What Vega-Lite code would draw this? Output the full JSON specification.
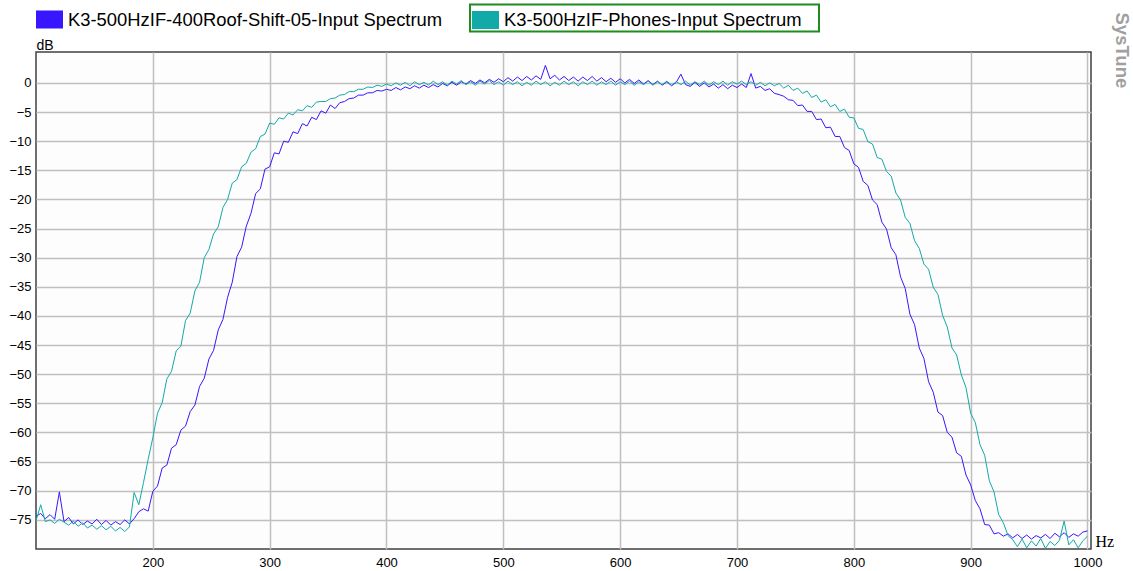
{
"$schema":"https://vega.github.io/schema/vega-lite/v6.json",
"autosize":{"type":"none"},
"width":1055,"height":497,
"padding":{"left":36,"top":52,"right":42,"bottom":22},
"background":"#FFFFFF",
"config":{
 "font":"Liberation Sans",
 "view":{"stroke":"#404040","strokeWidth":1.5,"fill":"#FDFDFD"},
 "axis":{"grid":true,"gridColor":"#C0C0C0","gridWidth":1.5,"ticks":false,"domain":false,"labelFontSize":13,"labelColor":"#000000","labelFont":"Liberation Sans"}
},
"title":{"text":"SysTune","orient":"right","anchor":"start","angle":90,"fontSize":18.5,"fontWeight":"bold","color":"#A0A0A0","font":"Liberation Sans","offset":-1,"dx":9},
"data":{"values":[
{"f":100,"a":-74.4,"b":-75.2},{"f":104,"a":-73.9,"b":-72.4},{"f":108,"a":-74.8,"b":-75.3},{"f":112,"a":-74.1,"b":-75.0},
{"f":116,"a":-74.9,"b":-75.6},{"f":120,"a":-70.2,"b":-74.9},{"f":124,"a":-75.3,"b":-75.4},{"f":128,"a":-74.6,"b":-75.9},
{"f":132,"a":-75.7,"b":-75.2},{"f":136,"a":-75.0,"b":-76.1},{"f":140,"a":-75.8,"b":-75.5},{"f":144,"a":-75.2,"b":-76.4},
{"f":148,"a":-75.7,"b":-75.9},{"f":152,"a":-74.9,"b":-76.6},{"f":156,"a":-75.8,"b":-76.0},{"f":160,"a":-75.1,"b":-76.7},
{"f":164,"a":-75.9,"b":-76.1},{"f":168,"a":-75.3,"b":-76.9},{"f":172,"a":-75.8,"b":-76.3},{"f":176,"a":-75.0,"b":-77.0},
{"f":180,"a":-75.7,"b":-76.2},{"f":184,"a":-74.8,"b":-70.3},{"f":188,"a":-73.6,"b":-72.4},{"f":192,"a":-73.1,"b":-68.6},
{"f":196,"a":-73.5,"b":-64.6},{"f":200,"a":-70.1,"b":-60.9},{"f":204,"a":-69.2,"b":-56.7},{"f":208,"a":-66.1,"b":-54.9},
{"f":212,"a":-65.6,"b":-50.8},{"f":216,"a":-62.7,"b":-49.5},{"f":220,"a":-62.1,"b":-46.0},{"f":224,"a":-59.6,"b":-45.2},
{"f":228,"a":-58.9,"b":-40.8},{"f":232,"a":-56.4,"b":-39.5},{"f":236,"a":-55.3,"b":-35.7},{"f":240,"a":-52.1,"b":-34.2},
{"f":244,"a":-50.7,"b":-30.0},{"f":248,"a":-47.4,"b":-28.6},{"f":252,"a":-45.9,"b":-25.9},{"f":256,"a":-42.4,"b":-24.7},
{"f":260,"a":-40.6,"b":-21.4},{"f":264,"a":-36.8,"b":-20.0},{"f":268,"a":-34.2,"b":-17.2},{"f":272,"a":-29.8,"b":-16.6},
{"f":276,"a":-28.2,"b":-14.4},{"f":280,"a":-24.6,"b":-13.8},{"f":284,"a":-22.4,"b":-11.9},{"f":288,"a":-19.0,"b":-11.3},
{"f":292,"a":-18.2,"b":-9.2},{"f":296,"a":-14.8,"b":-8.8},{"f":300,"a":-14.4,"b":-6.9},{"f":304,"a":-12.0,"b":-7.1},
{"f":308,"a":-12.2,"b":-6.0},{"f":312,"a":-10.0,"b":-6.2},{"f":316,"a":-10.2,"b":-5.2},{"f":320,"a":-8.4,"b":-5.5},
{"f":324,"a":-8.7,"b":-4.6},{"f":328,"a":-7.0,"b":-4.8},{"f":332,"a":-7.4,"b":-3.9},{"f":336,"a":-5.9,"b":-4.2},
{"f":340,"a":-6.3,"b":-3.3},{"f":344,"a":-4.8,"b":-3.2},{"f":348,"a":-5.2,"b":-3.2},{"f":352,"a":-3.8,"b":-2.7},
{"f":356,"a":-4.4,"b":-2.6},{"f":360,"a":-3.4,"b":-2.1},{"f":364,"a":-3.2,"b":-2.0},{"f":368,"a":-2.7,"b":-1.5},
{"f":372,"a":-2.6,"b":-1.5},{"f":376,"a":-2.1,"b":-1.1},{"f":380,"a":-2.1,"b":-1.1},{"f":384,"a":-1.7,"b":-0.7},
{"f":388,"a":-1.7,"b":-0.8},{"f":392,"a":-1.3,"b":-0.4},{"f":396,"a":-1.4,"b":-0.6},{"f":400,"a":-1.1,"b":-0.2},
{"f":404,"a":-1.3,"b":-0.5},{"f":408,"a":-0.8,"b":0.0},{"f":412,"a":-1.2,"b":-0.4},{"f":416,"a":-0.7,"b":0.1},
{"f":420,"a":-1.0,"b":-0.5},{"f":424,"a":-0.5,"b":0.2},{"f":428,"a":-0.9,"b":-0.3},{"f":432,"a":-0.4,"b":0.1},
{"f":436,"a":-0.8,"b":-0.4},{"f":440,"a":-0.3,"b":0.3},{"f":444,"a":-0.7,"b":-0.3},{"f":448,"a":-0.1,"b":0.2},
{"f":452,"a":-0.5,"b":-0.4},{"f":456,"a":0.1,"b":0.3},{"f":460,"a":-0.4,"b":-0.2},{"f":464,"a":0.2,"b":0.4},
{"f":468,"a":-0.2,"b":-0.3},{"f":472,"a":0.4,"b":0.2},{"f":476,"a":-0.1,"b":-0.4},{"f":480,"a":0.5,"b":0.3},
{"f":484,"a":0.0,"b":-0.2},{"f":488,"a":0.6,"b":0.4},{"f":492,"a":0.1,"b":-0.3},{"f":496,"a":0.7,"b":0.2},
{"f":500,"a":0.2,"b":-0.4},{"f":504,"a":0.9,"b":0.3},{"f":508,"a":0.3,"b":-0.3},{"f":512,"a":1.0,"b":0.2},
{"f":516,"a":0.4,"b":-0.5},{"f":520,"a":1.1,"b":0.1},{"f":524,"a":0.5,"b":-0.4},{"f":528,"a":1.2,"b":0.3},
{"f":532,"a":0.6,"b":-0.3},{"f":536,"a":3.0,"b":0.2},{"f":540,"a":0.7,"b":-0.5},{"f":544,"a":1.3,"b":0.1},
{"f":548,"a":0.5,"b":-0.4},{"f":552,"a":1.1,"b":0.3},{"f":556,"a":0.4,"b":-0.3},{"f":560,"a":1.0,"b":0.2},
{"f":564,"a":0.3,"b":-0.5},{"f":568,"a":1.0,"b":0.2},{"f":572,"a":0.4,"b":-0.3},{"f":576,"a":1.1,"b":0.3},
{"f":580,"a":0.3,"b":-0.4},{"f":584,"a":0.9,"b":0.2},{"f":588,"a":0.2,"b":-0.3},{"f":592,"a":0.8,"b":0.3},
{"f":596,"a":0.1,"b":-0.4},{"f":600,"a":0.7,"b":0.2},{"f":604,"a":0.0,"b":-0.3},{"f":608,"a":0.6,"b":0.3},
{"f":612,"a":-0.1,"b":-0.4},{"f":616,"a":0.5,"b":0.2},{"f":620,"a":-0.2,"b":-0.3},{"f":624,"a":0.4,"b":0.3},
{"f":628,"a":-0.3,"b":-0.4},{"f":632,"a":0.3,"b":0.2},{"f":636,"a":-0.4,"b":-0.3},{"f":640,"a":0.2,"b":0.3},
{"f":644,"a":-0.5,"b":-0.4},{"f":648,"a":0.1,"b":0.2},{"f":652,"a":1.5,"b":-0.3},{"f":656,"a":-0.3,"b":0.3},
{"f":660,"a":-0.6,"b":-0.4},{"f":664,"a":0.1,"b":0.2},{"f":668,"a":-0.6,"b":-0.3},{"f":672,"a":0.0,"b":0.3},
{"f":676,"a":-0.7,"b":-0.4},{"f":680,"a":-0.2,"b":0.2},{"f":684,"a":-0.9,"b":-0.3},{"f":688,"a":-0.3,"b":0.3},
{"f":692,"a":-1.0,"b":-0.4},{"f":696,"a":-0.4,"b":0.2},{"f":700,"a":-0.8,"b":-0.2},{"f":704,"a":-0.2,"b":0.3},
{"f":708,"a":-0.8,"b":-0.3},{"f":712,"a":1.6,"b":0.2},{"f":716,"a":-0.9,"b":-0.4},{"f":720,"a":-0.6,"b":0.1},
{"f":724,"a":-1.3,"b":-0.5},{"f":728,"a":-1.0,"b":0.0},{"f":732,"a":-1.8,"b":-0.5},{"f":736,"a":-2.0,"b":-0.1},
{"f":740,"a":-2.3,"b":-0.9},{"f":744,"a":-2.9,"b":-0.4},{"f":748,"a":-3.0,"b":-1.3},{"f":752,"a":-3.9,"b":-0.9},
{"f":756,"a":-3.8,"b":-1.8},{"f":760,"a":-4.9,"b":-1.4},{"f":764,"a":-4.9,"b":-2.5},{"f":768,"a":-6.3,"b":-2.1},
{"f":772,"a":-6.2,"b":-3.3},{"f":776,"a":-7.7,"b":-2.9},{"f":780,"a":-7.6,"b":-4.1},{"f":784,"a":-9.2,"b":-3.7},
{"f":788,"a":-9.2,"b":-4.9},{"f":792,"a":-11.1,"b":-4.5},{"f":796,"a":-11.6,"b":-5.9},{"f":800,"a":-13.9,"b":-6.0},
{"f":804,"a":-14.5,"b":-7.8},{"f":808,"a":-16.9,"b":-8.0},{"f":812,"a":-17.6,"b":-10.1},{"f":816,"a":-20.1,"b":-10.5},
{"f":820,"a":-20.9,"b":-12.8},{"f":824,"a":-23.9,"b":-13.1},{"f":828,"a":-25.1,"b":-15.2},{"f":832,"a":-28.3,"b":-16.0},
{"f":836,"a":-29.5,"b":-18.9},{"f":840,"a":-33.3,"b":-20.1},{"f":844,"a":-35.3,"b":-23.1},{"f":848,"a":-39.7,"b":-24.1},
{"f":852,"a":-41.5,"b":-27.1},{"f":856,"a":-45.5,"b":-28.4},{"f":860,"a":-47.3,"b":-31.1},{"f":864,"a":-51.3,"b":-32.0},
{"f":868,"a":-53.1,"b":-35.1},{"f":872,"a":-56.5,"b":-36.3},{"f":876,"a":-57.1,"b":-39.9},{"f":880,"a":-60.0,"b":-41.9},
{"f":884,"a":-60.8,"b":-45.5},{"f":888,"a":-63.5,"b":-46.7},{"f":892,"a":-64.1,"b":-50.1},{"f":896,"a":-67.3,"b":-52.3},
{"f":900,"a":-69.0,"b":-56.7},{"f":904,"a":-71.7,"b":-58.3},{"f":908,"a":-73.1,"b":-62.1},{"f":912,"a":-75.8,"b":-63.9},
{"f":916,"a":-75.9,"b":-68.3},{"f":920,"a":-77.4,"b":-70.2},{"f":924,"a":-77.2,"b":-74.1},{"f":928,"a":-77.8,"b":-75.5},
{"f":932,"a":-77.4,"b":-77.7},{"f":936,"a":-78.1,"b":-78.4},{"f":940,"a":-77.5,"b":-79.6},{"f":944,"a":-78.2,"b":-78.3},
{"f":948,"a":-77.6,"b":-79.8},{"f":952,"a":-78.3,"b":-78.6},{"f":956,"a":-77.7,"b":-79.5},{"f":960,"a":-78.1,"b":-78.2},
{"f":964,"a":-77.5,"b":-79.9},{"f":968,"a":-78.2,"b":-78.7},{"f":972,"a":-77.3,"b":-79.4},{"f":976,"a":-77.9,"b":-78.5},
{"f":980,"a":-77.2,"b":-75.2},{"f":984,"a":-78.0,"b":-79.3},{"f":988,"a":-77.4,"b":-78.4},{"f":992,"a":-77.8,"b":-79.8},
{"f":996,"a":-77.1,"b":-78.6},{"f":1000,"a":-76.9,"b":-77.8}
]},
"transform":[{"fold":["a","b"],"as":["series","db"]}],
"encoding":{
 "x":{"field":"f","type":"quantitative","scale":{"domain":[100,1003],"nice":false,"zero":false},
  "axis":{"values":[200,300,400,500,600,700,800,900,1000],"format":"d","labelPadding":7,"title":"Hz","titleFont":"Liberation Serif","titleFontSize":16,"titleFontWeight":"normal","titleAnchor":"start","titleAlign":"left","titleX":1059,"titleY":-3,"titleBaseline":"alphabetic"}},
 "y":{"field":"db","type":"quantitative","scale":{"domain":[-80,5.3],"nice":false,"zero":false},
  "axis":{"values":[0,-5,-10,-15,-20,-25,-30,-35,-40,-45,-50,-55,-60,-65,-70,-75],"labelPadding":5,"title":"dB","titleFont":"Liberation Sans","titleFontSize":14,"titleFontWeight":"normal","titleAngle":0,"titleAlign":"left","titleX":0,"titleY":-3,"titleBaseline":"alphabetic"}}
},
"layer":[
 {"transform":[{"filter":"datum.series === 'a'"}],
  "mark":{"type":"line","strokeWidth":1,"clip":true},
  "encoding":{"color":{"field":"series","type":"nominal","scale":{"domain":["a"],"range":["#3816FF"]},
   "legend":{"orient":"none","legendX":0,"legendY":-46,"direction":"horizontal","title":null,"symbolType":"M-1,-0.667L1,-0.667L1,0.667L-1,0.667Z","symbolSize":729,"symbolStrokeWidth":0,"symbolFillColor":"#3816FF","symbolOpacity":1,"labelFontSize":18.4,"labelFont":"Liberation Sans","labelColor":"#000000","labelLimit":0,"labelOffset":5,"padding":0,
    "labelExpr":"'K3-500HzIF-400Roof-Shift-05-Input Spectrum'",
    "encode":{"symbols":{"update":{"fill":{"value":"#3816FF"},"fillOpacity":{"value":1},"strokeWidth":{"value":0}}}}}}}},
 {"transform":[{"filter":"datum.series === 'b'"}],
  "mark":{"type":"line","strokeWidth":1,"clip":true},
  "encoding":{"color":{"field":"series","type":"nominal","scale":{"domain":["b"],"range":["#12AAA8"]},
   "legend":{"orient":"none","legendX":434,"legendY":-47.5,"direction":"horizontal","title":null,"symbolType":"M-1,-0.667L1,-0.667L1,0.667L-1,0.667Z","symbolSize":729,"symbolStrokeWidth":0,"symbolFillColor":"#12AAA8","symbolOpacity":1,"labelFontSize":18.4,"labelFont":"Liberation Sans","labelColor":"#000000","labelLimit":0,"labelOffset":5,"padding":2,"strokeColor":"#1E8C1E",
    "labelExpr":"'K3-500HzIF-Phones-Input Spectrum\u00a0\u00a0\u00a0\u200b'",
    "encode":{"legend":{"update":{"strokeWidth":{"value":2}}},"symbols":{"update":{"fill":{"value":"#12AAA8"},"fillOpacity":{"value":1},"strokeWidth":{"value":0}}}}}}}}
],
"resolve":{"scale":{"color":"independent"},"legend":{"color":"independent"}}
}
